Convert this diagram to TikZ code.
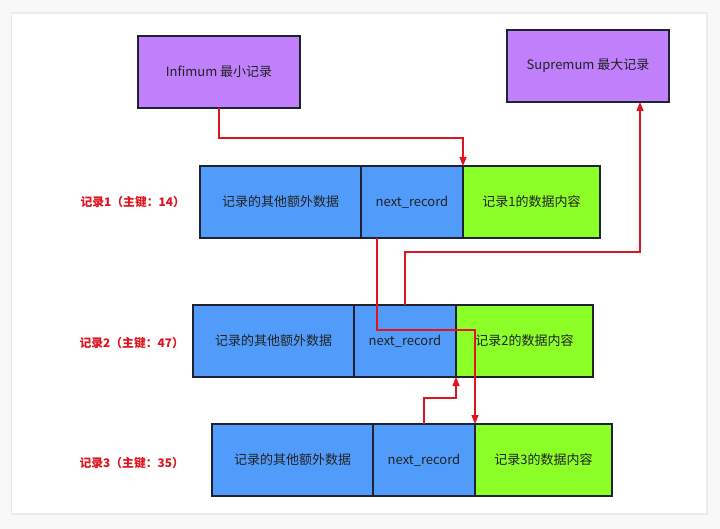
\documentclass[tikz,border=0pt]{standalone}
\usepackage{fontspec}
\setmainfont{Noto Sans CJK SC}
\usetikzlibrary{arrows.meta}
\definecolor{bgc}{HTML}{F8F8F8}
\definecolor{shd}{HTML}{EBEBEB}
\definecolor{purp}{HTML}{C080FC}
\definecolor{bluec}{HTML}{519CFA}
\definecolor{greenc}{HTML}{8CFF28}
\definecolor{redc}{HTML}{E0141E}
\definecolor{edgec}{HTML}{1E2233}
\definecolor{txtc}{HTML}{222222}
\tikzset{
  cell/.style={draw=edgec, line width=1.5pt, anchor=north west, inner sep=0pt, outer sep=0pt,
    text=txtc, font=\fontsize{13}{15}\selectfont, align=center},
  pbox/.style={cell, fill=purp, minimum width=162pt, minimum height=72pt},
  bbox/.style={cell, fill=bluec, minimum width=161pt, minimum height=72pt},
  nbox/.style={cell, fill=bluec, minimum width=102pt, minimum height=72pt},
  gbox/.style={cell, fill=greenc, minimum width=137pt, minimum height=72pt},
  lbl/.style={anchor=east, inner sep=0pt, text=redc, font=\fontsize{11.8}{14}\selectfont\bfseries},
  arr/.style={draw=redc, line width=1.4pt, -{Triangle[length=9pt,width=7pt]}}
}
\begin{document}
\begin{tikzpicture}[x=1pt,y=-1pt]
\fill[bgc] (0,0) rectangle (720,529);
\useasboundingbox (0,0) rectangle (720,529);
\fill[shd] (10.5,12.5) rectangle (707.5,515);
\fill[white] (12,14) rectangle (706,513);
% top boxes
\node[pbox] (inf) at (138,36) {Infimum 最小记录};
\node[pbox] (sup) at (507,30) {Supremum 最大记录};
% record 1
\node[bbox] (r1b) at (200,166) {记录的其他额外数据};
\node[nbox] (r1n) at (r1b.north east) {next\_record};
\node[gbox] (r1g) at (r1n.north east) {记录1的数据内容};
% record 2
\node[bbox] (r2b) at (193,305) {记录的其他额外数据};
\node[nbox] (r2n) at (r2b.north east) {next\_record};
\node[gbox] (r2g) at (r2n.north east) {记录2的数据内容};
% record 3
\node[bbox] (r3b) at (212,424) {记录的其他额外数据};
\node[nbox] (r3n) at (r3b.north east) {next\_record};
\node[gbox] (r3g) at (r3n.north east) {记录3的数据内容};
% labels
\node[lbl] (l1) at ([xshift=-15pt]r1b.west) {记录1（主键：14）};
\node[lbl] (l2) at ([xshift=-9pt,yshift=-2pt]r2b.west) {记录2（主键：47）};
\node[lbl] (l3) at ([xshift=-28pt,yshift=-3pt]r3b.west) {记录3（主键：35）};
% arrows
\draw[arr] (inf.south) -- ++(0,30) -| (r1n.north east);
\draw[arr] ([xshift=16pt]r1n.south west) -- ++(0,92) -| (r3n.north east);
\draw[arr] ([xshift=51pt]r2n.north west) -- ++(0,-53) -| ([xshift=-29pt]sup.south east);
\draw[arr] ([xshift=51pt]r3n.north west) -- ++(0,-26) -| (r2n.south east);
\end{tikzpicture}
\end{document}
